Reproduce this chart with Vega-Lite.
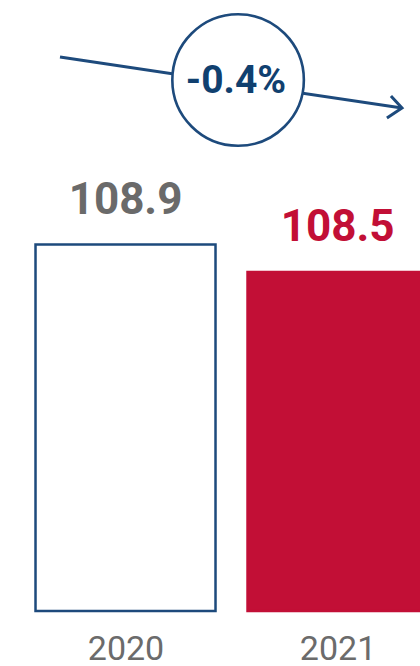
{
  "$schema": "https://vega.github.io/schema/vega-lite/v6.json",
  "autosize": {"type": "none"},
  "padding": {"left": 0, "top": 0, "right": 0, "bottom": 55},
  "width": 420,
  "height": 611,
  "background": "#ffffff",
  "config": {
    "view": {"stroke": null},
    "axisY": {"disable": true}
  },
  "datasets": {
    "bars": [
      {"year": 2020, "value": 108.9},
      {"year": 2021, "value": 108.5}
    ],
    "arrow": [
      {"part": "shaft", "order": 1, "x": 2019.691, "y": 111.627},
      {"part": "shaft", "order": 2, "x": 2021.304, "y": 110.885},
      {"part": "head", "order": 1, "x": 2021.252, "y": 111.06},
      {"part": "head", "order": 2, "x": 2021.304, "y": 110.885},
      {"part": "head", "order": 3, "x": 2021.233, "y": 110.74}
    ],
    "badge": [
      {"x": 2020.531, "y": 111.292, "tx": 2020.521, "ty": 111.103, "label": "-0.4%"}
    ]
  },
  "layer": [
    {
      "data": {"name": "bars"},
      "mark": {"type": "bar", "orient": "vertical", "width": 180, "strokeWidth": 2.5},
      "encoding": {
        "x": {"field": "year", "type": "quantitative", "title": null,
              "scale": {"domain": [2019.408, 2021.389], "nice": false, "zero": false, "padding": 0},
              "axis": {"values": [2020, 2021], "format": "d", "domain": false, "ticks": false, "tickSize": 0, "grid": false,
                       "labelFontSize": 34, "labelFont": "Roboto", "labelColor": "#6b6b6b", "labelPadding": 48,
                       "labelBaseline": "alphabetic", "labelFlush": false, "labelOverlap": false, "title": null}},
        "y": {"field": "value", "type": "quantitative",
              "scale": {"domain": [103.57, 112.456], "nice": false, "zero": false, "padding": 0}},
        "y2": {"datum": 103.57},
        "fill": {"field": "year", "type": "nominal", "scale": {"domain": [2020, 2021], "range": ["#ffffff", "#c20f36"]}, "legend": null},
        "stroke": {"field": "year", "type": "nominal", "scale": {"domain": [2020, 2021], "range": ["#1d4a7c", "#c20f36"]}, "legend": null}
      }
    },
    {
      "data": {"name": "bars"},
      "mark": {"type": "text", "font": "Roboto", "fontWeight": "bold", "fontSize": 44, "baseline": "alphabetic", "align": "center", "dy": -31},
      "encoding": {
        "x": {"field": "year", "type": "quantitative", "title": null, "scale": {"domain": [2019.408, 2021.389], "nice": false, "zero": false, "padding": 0}},
        "y": {"field": "value", "type": "quantitative", "scale": {"domain": [103.57, 112.456], "nice": false, "zero": false, "padding": 0}},
        "text": {"field": "value", "type": "quantitative", "format": ".1f"},
        "color": {"condition": {"test": "datum.year == 2021", "value": "#c20f36"}, "value": "#6a6a6a"}
      }
    },
    {
      "data": {"name": "arrow"},
      "mark": {"type": "line", "strokeWidth": 3, "color": "#1d4a7c", "strokeCap": "butt", "strokeJoin": "miter"},
      "encoding": {
        "x": {"field": "x", "type": "quantitative", "title": null, "scale": {"domain": [2019.408, 2021.389], "nice": false, "zero": false, "padding": 0}},
        "y": {"field": "y", "type": "quantitative", "scale": {"domain": [103.57, 112.456], "nice": false, "zero": false, "padding": 0}},
        "detail": {"field": "part", "type": "nominal"},
        "order": {"field": "order", "type": "quantitative"}
      }
    },
    {
      "data": {"name": "badge"},
      "mark": {"type": "point", "shape": "circle", "size": 17300, "filled": false, "fill": "#ffffff", "fillOpacity": 1, "stroke": "#1d4a7c", "strokeWidth": 2.6, "opacity": 1},
      "encoding": {
        "x": {"field": "x", "type": "quantitative", "title": null, "scale": {"domain": [2019.408, 2021.389], "nice": false, "zero": false, "padding": 0}},
        "y": {"field": "y", "type": "quantitative", "scale": {"domain": [103.57, 112.456], "nice": false, "zero": false, "padding": 0}}
      }
    },
    {
      "data": {"name": "badge"},
      "mark": {"type": "text", "font": "Roboto", "fontWeight": "bold", "fontSize": 39, "baseline": "alphabetic", "align": "center", "color": "#10406f"},
      "encoding": {
        "x": {"field": "tx", "type": "quantitative", "title": null, "scale": {"domain": [2019.408, 2021.389], "nice": false, "zero": false, "padding": 0}},
        "y": {"field": "ty", "type": "quantitative", "scale": {"domain": [103.57, 112.456], "nice": false, "zero": false, "padding": 0}},
        "text": {"field": "label", "type": "nominal"}
      }
    }
  ]
}
